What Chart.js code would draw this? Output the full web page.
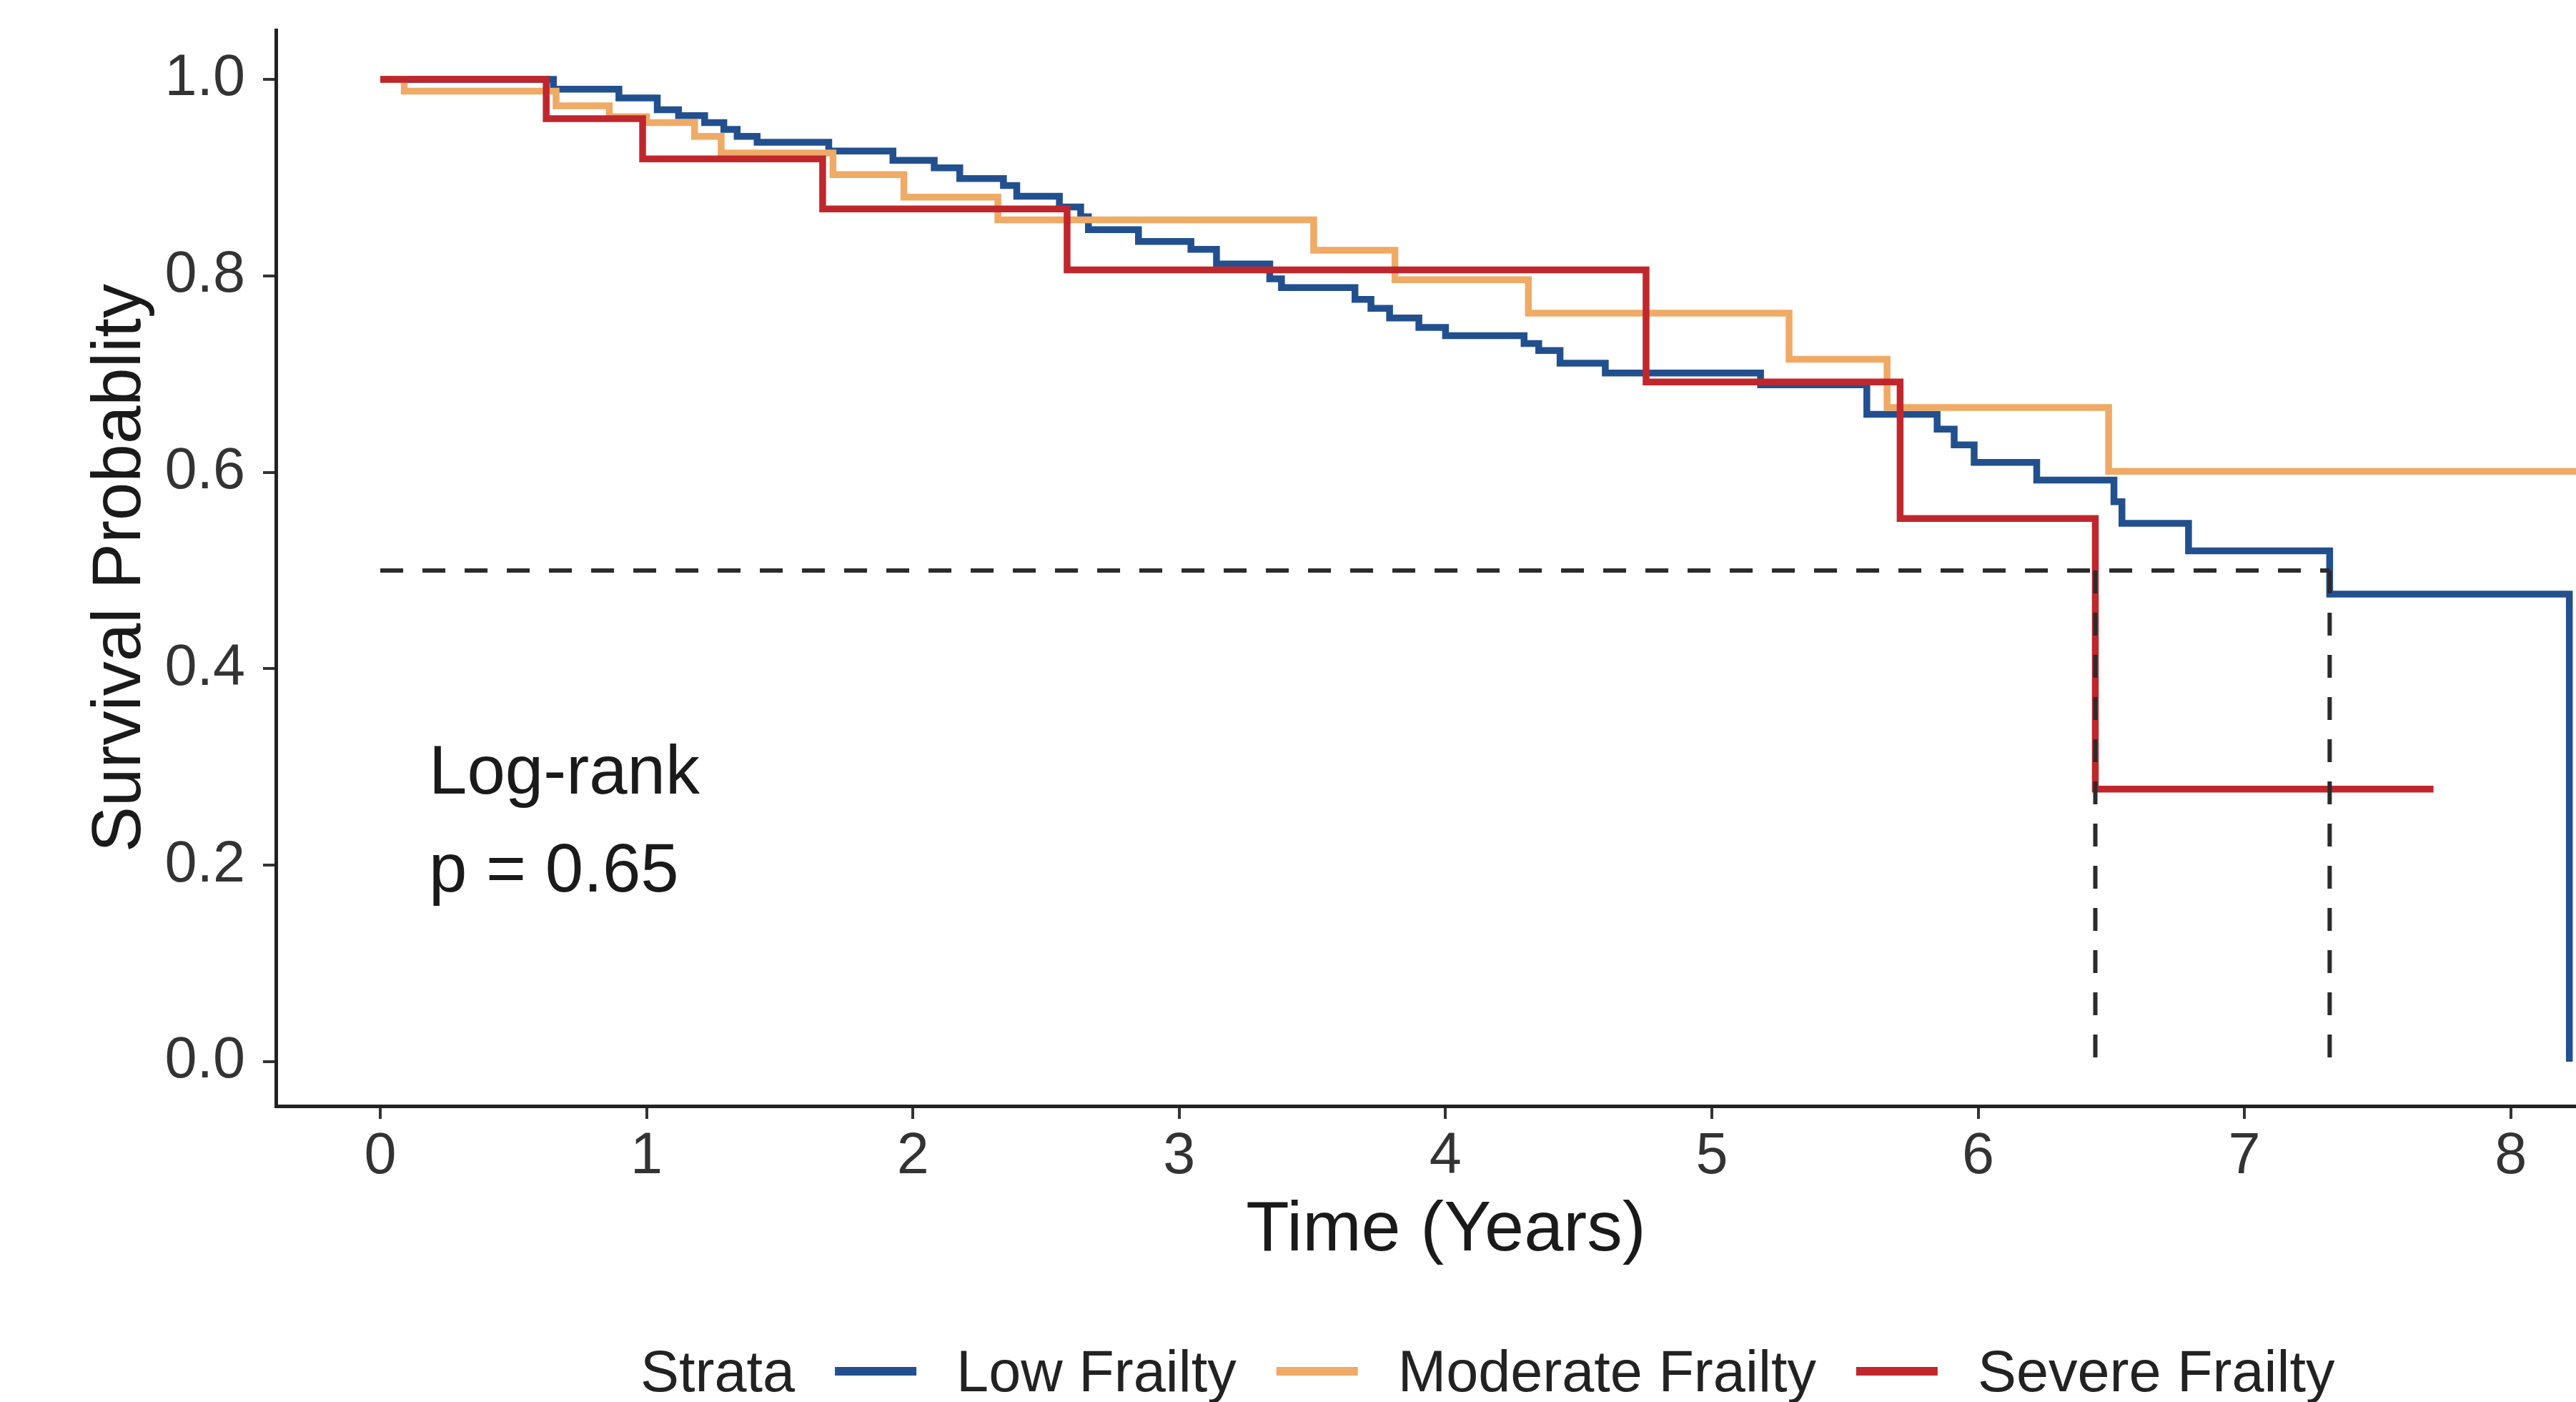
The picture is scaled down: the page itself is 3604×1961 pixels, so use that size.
<!DOCTYPE html>
<html>
<head>
<meta charset="utf-8">
<title>Survival by frailty</title>
<script src="https://cdn.jsdelivr.net/npm/chart.js@4.4.1/dist/chart.umd.min.js"></script>
<style>
  html, body { margin: 0; padding: 0; background: #fff; }
  #wrap { width: 3604px; height: 1961px; position: relative; }
</style>
</head>
<body>
<div id="wrap"><canvas id="kmChart"></canvas></div>
<script>
// Kaplan-Meier steps (time in years, survival probability)
const lowTimes = [0, 0.65, 0.896, 1.04, 1.12, 1.218, 1.29, 1.34, 1.415, 1.684, 1.925, 2.08, 2.176, 2.34, 2.39, 2.55, 2.63, 2.659, 2.847, 3.044, 3.14, 3.34, 3.384, 3.66, 3.72, 3.79, 3.9, 4.0, 4.295, 4.35, 4.43, 4.6, 5.183, 5.582, 5.846, 5.91, 5.985, 6.22, 6.51, 6.54, 6.79, 7.32, 8.22];
const lowSurv = [1.0, 0.99, 0.981, 0.969, 0.963, 0.956, 0.949, 0.942, 0.936, 0.927, 0.9175, 0.91, 0.899, 0.892, 0.881, 0.87, 0.86, 0.847, 0.835, 0.827, 0.812, 0.797, 0.788, 0.776, 0.767, 0.757, 0.7475, 0.739, 0.731, 0.724, 0.711, 0.701, 0.689, 0.659, 0.644, 0.628, 0.61, 0.592, 0.57, 0.548, 0.52, 0.476, 0.0];

const modTimes = [0, 0.09, 0.66, 0.86, 1.0, 1.18, 1.28, 1.7, 1.966, 2.319, 3.505, 3.81, 4.311, 5.29, 5.658, 6.49, 8.25];
const modSurv = [1.0, 0.988, 0.973, 0.962, 0.956, 0.942, 0.925, 0.903, 0.88, 0.857, 0.826, 0.796, 0.762, 0.715, 0.666, 0.601, 0.601];

const sevTimes = [0, 0.623, 0.985, 1.661, 2.579, 4.753, 5.707, 6.44, 7.71];
const sevSurv = [1.0, 0.96, 0.919, 0.868, 0.806, 0.692, 0.553, 0.2775, 0.2775];

const strataLabels = ["Low Frailty", "Moderate Frailty", "Severe Frailty"];
const strataColors = ["#22508F", "#EFAA66", "#C0272D"];

const medianTimes = [6.44, 7.32];
const medianLevel = 0.5;

const xTicks = [0, 1, 2, 3, 4, 5, 6, 7, 8];
const yTicks = [0, 0.2, 0.4, 0.6, 0.8, 1.0];

const logRankText = ["Log-rank", "p = 0.65"];
const xTitle = "Time (Years)";

const FONT = "'Liberation Sans', Arial, Helvetica, sans-serif";

function toPoints(times, surv) {
  return times.map((t, i) => ({ x: t, y: surv[i] }));
}

// median reference lines: one horizontal, one vertical per median
const lastMedian = Math.max(...medianTimes);
const dashStyle = {
  borderColor: "#2b2b2b",
  borderWidth: 6,
  borderDash: [32, 27],
  pointRadius: 0,
  fill: false,
};
const medianSets = [
  Object.assign({ label: "median", data: [{ x: 0, y: medianLevel }, { x: lastMedian, y: medianLevel }] }, dashStyle),
].concat(medianTimes.map((t) =>
  Object.assign({ label: "median", data: [{ x: t, y: medianLevel }, { x: t, y: 0 }] }, dashStyle)
));

const curves = [
  { times: lowTimes, surv: lowSurv },
  { times: modTimes, surv: modSurv },
  { times: sevTimes, surv: sevSurv },
];

// severe drawn on top, low at the bottom (Chart.js paints index 0 last)
const curveSets = curves.map((c, i) => ({
  label: strataLabels[i],
  strata: i,
  data: toPoints(c.times, c.surv),
  borderColor: strataColors[i],
  backgroundColor: strataColors[i],
  borderWidth: 9.5,
  stepped: "before",
  pointRadius: 0,
  fill: false,
})).reverse();

// legend laid out inline: "Strata  — Low Frailty  — Moderate ..."
const strataLegend = {
  id: "strataLegend",
  afterDraw(chart) {
    const ctx = chart.ctx;
    const items = chart.data.datasets
      .filter((d) => d.strata !== undefined)
      .sort((a, b) => a.strata - b.strata);
    ctx.save();
    ctx.font = "81px " + FONT;
    ctx.fillStyle = "#222";
    ctx.textBaseline = "middle";
    let x = 896;
    const textY = 1924;
    const keyY = 1918;
    ctx.fillText("Strata", x, textY);
    x += ctx.measureText("Strata").width;
    items.forEach((d) => {
      x += 56;
      ctx.strokeStyle = d.borderColor;
      ctx.lineWidth = 12;
      ctx.beginPath();
      ctx.moveTo(x, keyY);
      ctx.lineTo(x + 114, keyY);
      ctx.stroke();
      x += 114 + 56;
      ctx.fillText(d.label, x, textY);
      x += ctx.measureText(d.label).width;
    });
    ctx.restore();
  },
};

// log-rank annotation placed in data coordinates, plus the x axis title
const textNotes = {
  id: "textNotes",
  afterDraw(chart) {
    const { ctx, scales } = chart;
    ctx.save();
    ctx.font = "96px " + FONT;
    ctx.fillStyle = "#1a1a1a";
    ctx.textBaseline = "alphabetic";
    const px = scales.x.getPixelForValue(0.1825);
    ctx.fillText(logRankText[0], px, scales.y.getPixelForValue(0.273));
    ctx.fillText(logRankText[1], px, scales.y.getPixelForValue(0.173));

    ctx.font = "99px " + FONT;
    ctx.textAlign = "center";
    ctx.textBaseline = "middle";
    ctx.fillText(xTitle, 2023, 1722);
    ctx.restore();
  },
};

const canvas = document.getElementById("kmChart");
new Chart(canvas, {
  type: "line",
  data: { datasets: medianSets.concat(curveSets) },
  options: {
    responsive: true,
    maintainAspectRatio: false,
    animation: false,
    devicePixelRatio: 1,
    layout: { padding: { top: 42, right: 0, bottom: 0, left: 0 } },
    plugins: {
      legend: { display: false },
      tooltip: { enabled: false },
    },
    scales: {
      x: {
        type: "linear",
        min: -0.392,
        max: 8.245,
        afterFit: (scale) => {
          scale.height = 414;
          scale.paddingLeft = 0;
          scale.paddingRight = 0;
        },
        afterBuildTicks: (scale) => { scale.ticks = xTicks.map((v) => ({ value: v })); },
        grid: { drawOnChartArea: false, drawTicks: true, tickLength: 18, tickColor: "#333", lineWidth: 4 },
        border: { display: true, color: "#222", width: 5 },
        ticks: {
          autoSkip: false,
          maxRotation: 0,
          padding: 5,
          color: "#333",
          font: { family: FONT, size: 81 },
          callback: (v) => String(v),
        },
        title: { display: false },
      },
      y: {
        type: "linear",
        min: -0.0451,
        max: 1.0502,
        afterFit: (scale) => {
          scale.width = 386;
          scale.paddingTop = 0;
          scale.paddingBottom = 0;
        },
        afterBuildTicks: (scale) => { scale.ticks = yTicks.map((v) => ({ value: v })); },
        grid: { drawOnChartArea: false, drawTicks: true, tickLength: 18, tickColor: "#333", lineWidth: 4 },
        border: { display: true, color: "#222", width: 5 },
        ticks: {
          autoSkip: false,
          padding: 25,
          color: "#333",
          font: { family: FONT, size: 81 },
          callback: (v) => v.toFixed(1),
        },
        title: {
          display: true,
          text: "Survival Probablity",
          color: "#1a1a1a",
          font: { family: FONT, size: 96 },
          padding: { top: 112, bottom: 0 },
        },
      },
    },
  },
  plugins: [textNotes, strataLegend],
});
</script>
</body>
</html>
